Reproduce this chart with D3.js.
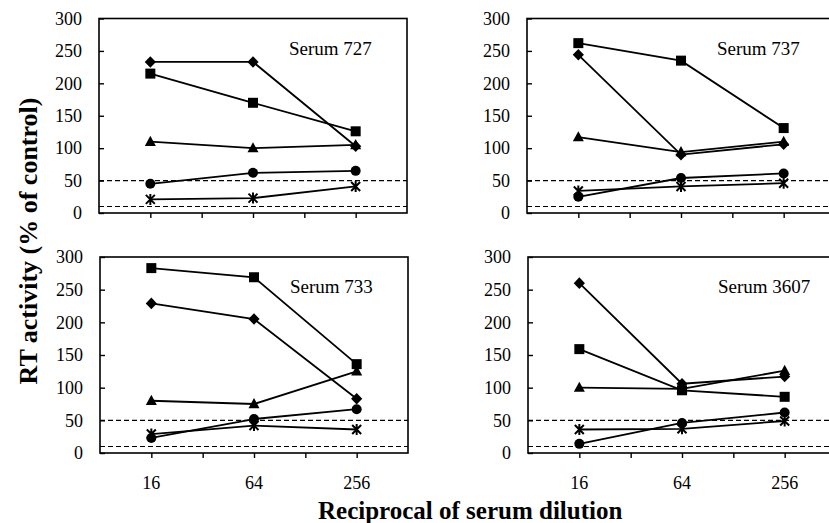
<!DOCTYPE html>
<html>
<head>
<meta charset="utf-8">
<script src="https://cdn.jsdelivr.net/npm/d3@7"></script>
<style>
  body { margin: 0; background: #fff; }
  svg { display: block; font-family: "Liberation Serif", "Times New Roman", serif; }
</style>
</head>
<body>
<script>
// chart values
const panelNames = ["Serum 727", "Serum 737", "Serum 733", "Serum 3607"];
const dilutions = [16, 64, 256];
const xTicks = [16, 32, 64, 128, 256];
const xTickLabels = [16, 64, 256];
const yTicks = [0, 50, 100, 150, 200, 250, 300];
const cutoffs = [50, 10];

// one row per panel, in the order of panelNames
const diamondVals = [[233, 233, 103], [244, 90, 106], [229, 205, 83], [260, 106, 117]];
const squareVals = [[215, 170, 126], [262, 235, 131], [283, 269, 136], [159, 96, 86]];
const triangleVals = [[110, 100, 105], [117, 94, 110], [80, 75, 125], [100, 98, 126]];
const circleVals = [[45, 62, 65], [25, 54, 61], [23, 52, 67], [14, 46, 62]];
const starVals = [[21, 23, 41], [34, 41, 46], [29, 42, 36], [36, 37, 49]];

const W = 829, H = 523;
const svg = d3.select("body").append("svg")
    .attr("width", W)
    .attr("height", H);

// panel boxes
const panels = [
    {x: 99, y: 18.5, w: 308, h: 194.5},
    {x: 527, y: 18.5, w: 308, h: 194.5},
    {x: 100, y: 257, w: 308, h: 196},
    {x: 528, y: 257, w: 308, h: 196}
];

// markers
const starPath = "M-4.5,-4.5L4.5,4.5M-4.5,4.5L4.5,-4.5M0,-5.5L0,5.5";
function drawMarker(g, kind, cx, cy) {
    if (kind == "diamond") {
        g.append("path").attr("d", "M0,-5.8L5.6,0L0,5.8L-5.6,0Z")
            .attr("transform", `translate(${cx},${cy})`).attr("fill", "#000");
    } else if (kind == "square") {
        g.append("rect").attr("x", cx - 5).attr("y", cy - 5)
            .attr("width", 10).attr("height", 10).attr("fill", "#000");
    } else if (kind == "triangle") {
        g.append("path").attr("d", "M0,-6L5.5,4.2L-5.5,4.2Z")
            .attr("transform", `translate(${cx},${cy})`).attr("fill", "#000");
    } else if (kind == "circle") {
        g.append("circle").attr("cx", cx).attr("cy", cy).attr("r", 5).attr("fill", "#000");
    } else {
        g.append("path").attr("d", starPath)
            .attr("transform", `translate(${cx},${cy})`)
            .attr("stroke", "#000").attr("stroke-width", 2).attr("fill", "none");
    }
}

const seriesList = [
    {kind: "star", vals: starVals},
    {kind: "circle", vals: circleVals},
    {kind: "triangle", vals: triangleVals},
    {kind: "square", vals: squareVals},
    {kind: "diamond", vals: diamondVals}
];

panels.forEach((p, i) => {
    const x = d3.scaleLog().base(2).domain([8, 512]).range([p.x, p.x + p.w]);
    const y = d3.scaleLinear().domain([0, 300]).range([p.y + p.h, p.y]);
    const g = svg.append("g");

    // cutoff lines
    cutoffs.forEach(c => {
        g.append("line")
            .attr("x1", p.x).attr("x2", p.x + p.w)
            .attr("y1", y(c)).attr("y2", y(c))
            .attr("stroke", "#000").attr("stroke-width", 1.1)
            .attr("stroke-dasharray", "5,3");
    });

    // y axis, ticks pointing in
    const yAxis = g.append("g")
        .attr("transform", `translate(${p.x},0)`)
        .call(d3.axisRight(y).tickValues(yTicks).tickSize(5).tickFormat(""));
    yAxis.select(".domain").remove();
    yAxis.selectAll("line").attr("stroke-width", 1.4);
    yTicks.forEach(t => {
        g.append("text")
            .attr("x", p.x - 17).attr("y", y(t))
            .attr("dy", "0.35em")
            .attr("text-anchor", "end")
            .style("font-size", "18px")
            .text(t);
    });

    // x axis, ticks pointing out
    const xAxis = g.append("g")
        .attr("transform", `translate(0,${p.y + p.h})`)
        .call(d3.axisBottom(x).tickValues(xTicks).tickSize(5).tickFormat(""));
    xAxis.select(".domain").remove();
    xAxis.selectAll("line").attr("stroke-width", 1.4);
    if (i >= 2) {
        xTickLabels.forEach(t => {
            g.append("text")
                .attr("x", x(t)).attr("y", p.y + p.h + 36)
                .attr("text-anchor", "middle")
                .style("font-size", "18px")
                .text(t);
        });
    }

    // frame
    g.append("rect")
        .attr("x", p.x).attr("y", p.y)
        .attr("width", p.w).attr("height", p.h)
        .attr("fill", "none").attr("stroke", "#000").attr("stroke-width", 1.6);

    // series
    const line = d3.line().x(d => x(d[0])).y(d => y(d[1]));
    seriesList.forEach(s => {
        const pts = dilutions.map((d, j) => [d, s.vals[i][j]]);
        g.append("path")
            .attr("d", line(pts))
            .attr("fill", "none").attr("stroke", "#000").attr("stroke-width", 1.8);
        pts.forEach(pt => drawMarker(g, s.kind, x(pt[0]), y(pt[1])));
    });

    // panel name
    g.append("text")
        .attr("x", p.x + 190).attr("y", p.y + 36)
        .style("font-size", "19px")
        .text(panelNames[i]);
});

// axis titles
svg.append("text")
    .attr("transform", "translate(37,241) rotate(-90)")
    .attr("text-anchor", "middle")
    .style("font-size", "26px")
    .style("font-weight", "bold")
    .text("RT activity (% of control)");

svg.append("text")
    .attr("x", 318).attr("y", 519)
    .style("font-size", "25px")
    .style("font-weight", "bold")
    .text("Reciprocal of serum dilution");
</script>
</body>
</html>
